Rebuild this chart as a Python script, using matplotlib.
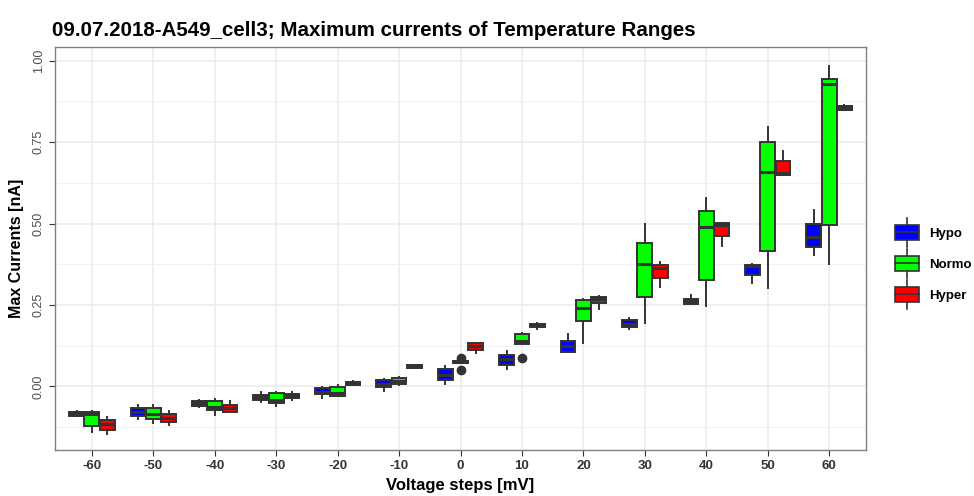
import numpy as np
import matplotlib
matplotlib.use("Agg")
import matplotlib.pyplot as plt
from matplotlib.legend_handler import HandlerBase
from matplotlib.patches import Rectangle
from matplotlib.lines import Line2D

plt.rcParams['font.family'] = ['Liberation Sans', 'DejaVu Sans']

# ------------------------------------------------------------------
# Datos: (bigote inf, Q1, mediana, Q3, bigote sup) por paso de voltaje
# ------------------------------------------------------------------
voltages = [-60, -50, -40, -30, -20, -10, 0, 10, 20, 30, 40, 50, 60]
groups = ["Hypo", "Normo", "Hyper"]
colors = ["#0000FF", "#00FF00", "#FF0000"]

hypo = [(-0.092, -0.091, -0.083, -0.078, -0.074),
        (-0.099, -0.091, -0.079, -0.067, -0.057),
        (-0.064, -0.060, -0.052, -0.045, -0.040),
        (-0.049, -0.040, -0.033, -0.025, -0.018),
        (-0.034, -0.022, -0.016, -0.006, -0.002),
        (-0.014, -0.001, 0.008, 0.019, 0.024),
        (0.009, 0.021, 0.035, 0.054, 0.062),
        (0.054, 0.067, 0.083, 0.098, 0.110),
        (0.106, 0.106, 0.123, 0.139, 0.162),
        (0.175, 0.183, 0.193, 0.203, 0.210),
        (0.252, 0.252, 0.261, 0.270, 0.280),
        (0.318, 0.341, 0.369, 0.374, 0.377),
        (0.403, 0.427, 0.458, 0.499, 0.541)]

normo = [(-0.140, -0.122, -0.084, -0.079, -0.074),
         (-0.111, -0.099, -0.084, -0.065, -0.057),
         (-0.087, -0.073, -0.062, -0.046, -0.038),
         (-0.060, -0.050, -0.042, -0.021, -0.016),
         (-0.030, -0.028, -0.019, -0.003, 0.006),
         (0.006, 0.009, 0.016, 0.025, 0.029),
         (0.071, 0.072, 0.075, 0.077, 0.078),
         (0.131, 0.131, 0.139, 0.160, 0.163),
         (0.134, 0.200, 0.241, 0.264, 0.270),
         (0.195, 0.274, 0.376, 0.439, 0.500),
         (0.246, 0.328, 0.490, 0.540, 0.579),
         (0.301, 0.415, 0.657, 0.751, 0.797),
         (0.376, 0.495, 0.929, 0.944, 0.983)]

hyper = [(-0.145, -0.134, -0.115, -0.104, -0.094),
         (-0.119, -0.110, -0.096, -0.084, -0.076),
         (-0.079, -0.077, -0.065, -0.056, -0.045),
         (-0.040, -0.036, -0.030, -0.024, -0.017),
         (0.004, 0.006, 0.010, 0.014, 0.016),
         (0.056, 0.058, 0.062, 0.065, 0.067),
         (0.103, 0.113, 0.123, 0.132, 0.133),
         (0.175, 0.183, 0.188, 0.192, 0.195),
         (0.238, 0.255, 0.270, 0.275, 0.279),
         (0.305, 0.332, 0.364, 0.374, 0.382),
         (0.430, 0.463, 0.497, 0.503, 0.503),
         (0.650, 0.650, 0.655, 0.691, 0.722),
         (0.850, 0.850, 0.855, 0.862, 0.865)]

# outliers (solo Normo en 0 y 10 mV)
normo_fliers = {0: [0.088, 0.050], 10: [0.086]}

series = [hypo, normo, hyper]
fliers_by_group = [{}, normo_fliers, {}]

# ------------------------------------------------------------------
# Figura
# ------------------------------------------------------------------
fig = plt.figure(figsize=(9.74, 4.96), dpi=100)
ax = fig.add_axes([55/974, 1 - 450/496, (866-55)/974, (450-47)/496])

edge = "#333333"
offsets = [-0.25, 0.0, 0.25]

for g, (data, col, off, fl) in enumerate(zip(series, colors, offsets, fliers_by_group)):
    stats = []
    for v, (lo, q1, med, q3, hi) in zip(voltages, data):
        stats.append(dict(whislo=lo, q1=q1, med=med, q3=q3, whishi=hi,
                          fliers=fl.get(v, [])))
    pos = np.arange(1, len(voltages) + 1) + off
    ax.bxp(stats, positions=pos, widths=0.24, patch_artist=True,
           showcaps=False, manage_ticks=False,
           boxprops=dict(facecolor=col, edgecolor=edge, linewidth=1.4),
           medianprops=dict(color=edge, linewidth=2.2),
           whiskerprops=dict(color=edge, linewidth=1.4),
           flierprops=dict(marker='o', markerfacecolor=edge,
                           markeredgecolor=edge, markersize=6))

ax.set_xlim(0.4, len(voltages) + 0.6)
ax.set_ylim(-0.195, 1.042)
ax.set_xticks(np.arange(1, len(voltages) + 1))
ax.set_xticklabels([str(v) for v in voltages], fontsize=9.5,
                   fontweight='bold', color='#333333')
ax.set_yticks([0.0, 0.25, 0.5, 0.75, 1.0])
ax.set_yticklabels(["0.00", "0.25", "0.50", "0.75", "1.00"],
                   rotation=90, va='center', fontsize=9, color='#4d4d4d')
ax.set_yticks([-0.125, 0.125, 0.375, 0.625, 0.875], minor=True)
ax.tick_params(axis='both', which='major', length=4, color='#333333')
ax.tick_params(axis='y', which='minor', length=0)

ax.grid(True, which='major', color='#ebebeb', linewidth=1.1)
ax.grid(True, which='minor', axis='y', color='#f2f2f2', linewidth=0.7)
ax.set_axisbelow(True)
for s in ax.spines.values():
    s.set_color('#808080')
    s.set_linewidth(1.0)

ax.set_xlabel("Voltage steps [mV]", fontsize=12, fontweight='bold', labelpad=4)
ax.set_ylabel("Max Currents [nA]", fontsize=11.5, fontweight='bold', labelpad=6)
fig.text(52/974, 1 - 30/496, "09.07.2018-A549_cell3; Maximum currents of Temperature Ranges",
         fontsize=14.8, fontweight='bold', va='center', ha='left')


# clave de leyenda tipo boxplot
class BoxKey(HandlerBase):
    def __init__(self, color):
        super().__init__()
        self.color = color

    def create_artists(self, legend, orig_handle, xdescent, ydescent,
                       width, height, fontsize, trans):
        cx = width / 2 - xdescent
        bh = height * 1.2
        by = -ydescent + (height - bh) / 2
        whisk = Line2D([cx, cx], [by - 5, by + bh + 5], color=edge, lw=1.2,
                       transform=trans)
        box = Rectangle((-xdescent, by), width, bh, facecolor=self.color,
                        edgecolor=edge, lw=1.2, transform=trans)
        med = Line2D([-xdescent, -xdescent + width], [by + bh / 2] * 2,
                     color=edge, lw=1.2, transform=trans)
        return [whisk, box, med]


handles = [Rectangle((0, 0), 1, 1) for _ in groups]
leg = fig.legend(handles, groups, loc='center left',
                 bbox_to_anchor=(895/974, 1 - 264/496),
                 frameon=False, handlelength=1.8, handleheight=1.1,
                 labelspacing=1.3, handletextpad=0.8, borderaxespad=0,
                 borderpad=0,
                 handler_map={h: BoxKey(c) for h, c in zip(handles, colors)},
                 prop=dict(weight='bold', size=9.5))

fig.savefig("out.png", dpi=100)
